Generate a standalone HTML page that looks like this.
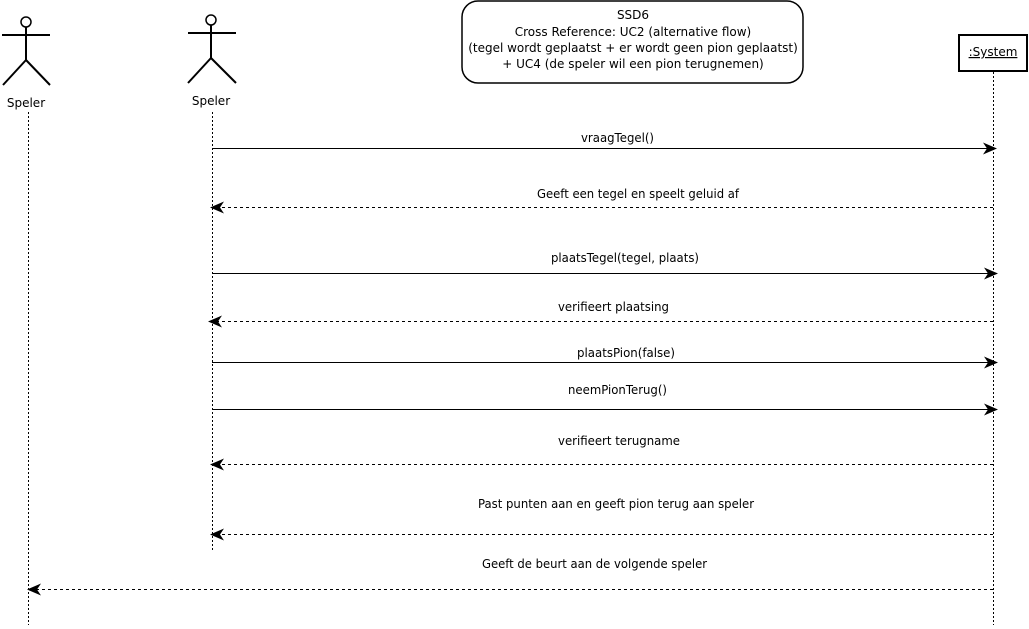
<!DOCTYPE html>
<html><head><meta charset="utf-8"><style>
html,body{margin:0;padding:0;background:#fff;}
svg{display:block;}
text{font-family:"DejaVu Sans","Liberation Sans",sans-serif;font-size:12px;fill:#000;}
</style></head><body>
<svg width="1029" height="629" viewBox="0 0 1029 629" xmlns="http://www.w3.org/2000/svg">
<defs>
<marker id="a" markerWidth="14" markerHeight="12" refX="13" refY="6" orient="auto" markerUnits="userSpaceOnUse">
<path d="M0,0 L14,6 L0,12 L4,6 Z" fill="#000"/>
</marker>
</defs>
<g stroke="#000" stroke-width="2" fill="none">
<circle cx="26" cy="22" r="5" stroke-width="1.5"/>
<line x1="2" y1="35" x2="50" y2="35"/>
<line x1="26" y1="27" x2="26" y2="60"/>
<line x1="26" y1="60" x2="3" y2="85"/>
<line x1="26" y1="60" x2="50" y2="85"/>
<circle cx="211" cy="20" r="5" stroke-width="1.5"/>
<line x1="188" y1="33" x2="236" y2="33"/>
<line x1="211" y1="25" x2="211" y2="58"/>
<line x1="211" y1="58" x2="188" y2="83"/>
<line x1="211" y1="58" x2="236" y2="83"/>
<rect x="462" y="1" width="341" height="82" rx="16" ry="16" stroke-width="1.5"/>
<rect x="959" y="35" width="68" height="36"/>
</g>
<text x="26" y="107" text-anchor="middle">Speler</text>
<text x="211" y="105" text-anchor="middle">Speler</text>
<text x="993" y="56" text-anchor="middle" text-decoration="underline">:System</text>
<g text-anchor="middle">
<text x="633" y="19">SSD6</text>
<text x="633" y="36">Cross Reference: UC2 (alternative flow)</text>
<text x="633" y="52">(tegel wordt geplaatst + er wordt geen pion geplaatst)</text>
<text x="633" y="68">+ UC4 (de speler wil een pion terugnemen)</text>
</g>
<g stroke="#000" stroke-width="1" stroke-dasharray="2,2" fill="none">
<line x1="28.5" y1="112" x2="28.5" y2="625"/>
<line x1="212.5" y1="112" x2="212.5" y2="552"/>
<line x1="993.5" y1="72" x2="993.5" y2="625"/>
</g>
<g stroke="#000" stroke-width="1" fill="none">
<line x1="212" y1="148.5" x2="996" y2="148.5" marker-end="url(#a)"/>
<line x1="993" y1="207.5" x2="211" y2="207.5" stroke-dasharray="3,3" marker-end="url(#a)"/>
<line x1="212" y1="273.5" x2="997" y2="273.5" marker-end="url(#a)"/>
<line x1="993" y1="321.5" x2="209" y2="321.5" stroke-dasharray="3,3" marker-end="url(#a)"/>
<line x1="212" y1="362.5" x2="997" y2="362.5" marker-end="url(#a)"/>
<line x1="212" y1="409.5" x2="997" y2="409.5" marker-end="url(#a)"/>
<line x1="993" y1="464.5" x2="211" y2="464.5" stroke-dasharray="3,3" marker-end="url(#a)"/>
<line x1="993" y1="534.5" x2="211" y2="534.5" stroke-dasharray="3,3" marker-end="url(#a)"/>
<line x1="993" y1="589.5" x2="28" y2="589.5" stroke-dasharray="3,3" marker-end="url(#a)"/>
</g>
<g>
<text x="581" y="142" textLength="73" lengthAdjust="spacingAndGlyphs">vraagTegel()</text>
<text x="537" y="198" textLength="202" lengthAdjust="spacingAndGlyphs">Geeft een tegel en speelt geluid af</text>
<text x="551" y="262" textLength="148" lengthAdjust="spacingAndGlyphs">plaatsTegel(tegel, plaats)</text>
<text x="558" y="311" textLength="111" lengthAdjust="spacingAndGlyphs">verifieert plaatsing</text>
<text x="577" y="357" textLength="98" lengthAdjust="spacingAndGlyphs">plaatsPion(false)</text>
<text x="568" y="394" textLength="99" lengthAdjust="spacingAndGlyphs">neemPionTerug()</text>
<text x="558" y="445" textLength="122" lengthAdjust="spacingAndGlyphs">verifieert terugname</text>
<text x="478" y="508" textLength="276" lengthAdjust="spacingAndGlyphs">Past punten aan en geeft pion terug aan speler</text>
<text x="482" y="568" textLength="225" lengthAdjust="spacingAndGlyphs">Geeft de beurt aan de volgende speler</text>
</g>
</svg>
</body></html>
